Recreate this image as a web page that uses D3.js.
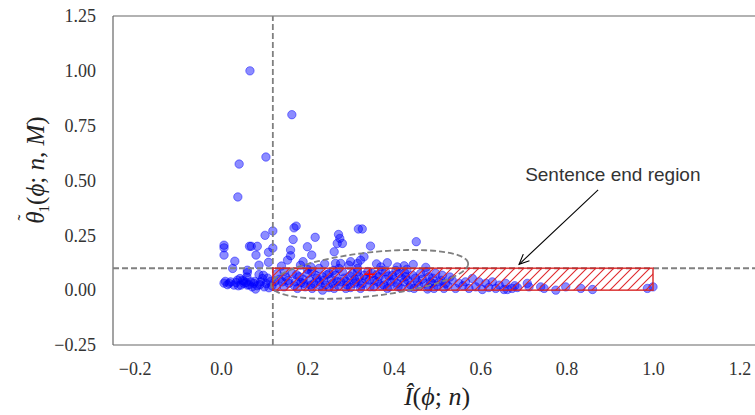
<!DOCTYPE html>
<html><head><meta charset="utf-8">
<script src="https://cdn.jsdelivr.net/npm/d3@7"></script>
<style>body{margin:0;background:#fff}svg{display:block}.tk text{font-family:"Liberation Serif","Times New Roman",serif !important;font-size:18px !important}</style>
</head><body><svg id="c" width="755" height="415"></svg>
<script>
// ---- data ----
const xVals = [0.067,0.164,0.042,0.104,0.039,
0.12,0.102,0.007,0.007,0.007,0.066,0.070,0.084,0.120,0.110,0.081,0.032,0.110,0.088,0.027,0.061,0.061,0.088,0.098,0.044,0.038,0.007,0.022,0.030,0.053,0.061,0.076,0.084,0.100,0.111,0.080,0.046,0.019,0.069,0.096,0.092,0.053,
0.169,0.174,0.167,0.218,0.272,0.275,0.281,0.269,0.161,0.161,0.154,0.200,0.210,0.262,0.318,0.184,0.208,0.265,0.277,0.296,
0.146,0.165,0.181,0.200,0.219,0.235,0.250,0.265,0.281,0.304,0.142,0.157,0.173,0.192,0.208,0.227,0.242,0.258,0.277,0.292,0.308,0.146,0.177,0.211,0.235,0.262,0.289,0.227,0.273,0.316,0.125,0.130,0.128,
0.327,0.346,0.452,0.331,0.323,0.316,0.385,0.370,0.408,0.424,0.445,0.474,
0.316,0.331,0.350,0.366,0.381,0.397,0.412,0.428,0.443,0.462,0.481,0.312,0.327,0.343,0.362,0.377,0.393,0.408,0.424,0.439,0.454,0.470,0.485,0.323,0.354,0.385,0.416,0.447,0.478,
0.497,0.512,0.505,0.489,0.520,0.535,0.551,0.566,0.582,0.597,0.613,0.628,0.644,0.659,0.493,0.516,0.543,0.574,0.605,0.636,0.655,
0.663,0.674,0.686,0.709,0.713,0.740,0.748,0.775,0.798,0.833,0.860,0.987,1.000,
0.135,0.150,0.155,0.170,0.175,0.185,0.190,0.195,0.205,0.210,0.215,0.222,0.230,0.238,0.245,0.250,0.255,0.260,0.268,0.272,0.285,0.290,0.298,0.300,0.310,0.320,0.325,0.335,0.340,0.345,0.355,0.360,0.370,0.372,0.380,0.388,0.390,0.400,0.405,0.410,0.418,0.425,0.432,0.436,0.450,0.458,0.466,0.475,0.480,0.490,0.500,0.510,0.525,0.530,0.560,0.590,0.620,0.680,
0.010,0.015,0.035,0.040,0.050,0.058,0.065,0.072,0.078,0.090,0.105,0.115,0.118,0.108,0.060,
0.140,0.190,0.240,0.300,0.360,0.430,0.200];
const yVals = [1.000,0.800,0.575,0.607,0.425,
0.270,0.250,0.205,0.193,0.160,0.200,0.200,0.200,0.192,0.173,0.160,0.132,0.127,0.114,0.099,0.091,0.080,0.071,0.068,0.053,0.046,0.032,0.038,0.023,0.031,0.023,0.031,0.020,0.015,0.011,0.005,0.023,0.031,0.038,0.053,0.038,0.041,
0.284,0.292,0.231,0.241,0.254,0.236,0.213,0.213,0.183,0.157,0.137,0.198,0.160,0.175,0.279,0.114,0.106,0.122,0.122,0.114,
0.084,0.076,0.061,0.076,0.068,0.061,0.076,0.068,0.084,0.076,0.038,0.031,0.038,0.031,0.023,0.038,0.023,0.031,0.038,0.023,0.031,0.015,0.008,0.008,0.000,0.008,0.008,0.099,0.099,0.099,0.040,0.075,0.012,
0.279,0.201,0.221,0.152,0.137,0.122,0.125,0.106,0.106,0.111,0.117,0.104,
0.084,0.068,0.076,0.061,0.084,0.068,0.076,0.061,0.068,0.076,0.061,0.038,0.031,0.046,0.038,0.023,0.038,0.031,0.038,0.023,0.038,0.031,0.038,0.008,0.015,0.008,0.011,0.008,0.005,
0.076,0.068,0.038,0.031,0.031,0.046,0.031,0.038,0.053,0.038,0.031,0.038,0.023,0.031,0.008,0.008,0.008,0.008,0.003,0.008,0.003,
0.003,0.008,0.012,0.031,0.015,0.015,0.008,0.000,0.015,0.008,0.003,0.008,0.015,
0.050,0.060,0.045,0.020,0.070,0.035,0.050,0.015,0.045,0.085,0.030,0.055,0.020,0.045,0.070,0.012,0.050,0.090,0.040,0.020,0.055,0.040,0.065,0.012,0.050,0.060,0.020,0.050,0.085,0.015,0.045,0.070,0.020,0.090,0.050,0.065,0.015,0.050,0.090,0.015,0.055,0.080,0.045,0.012,0.055,0.020,0.050,0.085,0.015,0.055,0.020,0.045,0.020,0.060,0.020,0.015,0.012,0.020,
0.040,0.025,0.035,0.020,0.045,0.035,0.025,0.015,0.040,0.025,0.030,0.040,0.020,0.055,0.060,
0.110,0.130,0.120,0.130,0.120,0.095,0.095];
const xTicks = [-0.2,0.0,0.2,0.4,0.6,0.8,1.0,1.2];
const yTicks = [-0.25,0.00,0.25,0.50,0.75,1.00,1.25];
const xThreshold = 0.12, yThreshold = 0.10;
const regionX = [0.12, 1.0], regionY = [0.0, 0.10];
const meanPoint = [0.344, 0.072];
const ellipseMajor = [0.228, 0.051], ellipseMinor = [0.0058, -0.099];
const annText = "Sentence end region";
const annTextPos = [0.907, 0.50];
const annFrom = [0.873, 0.457], annTo = [0.690, 0.118];

// ---- chart ----
const svg = d3.select("#c");
const x = d3.scaleLinear().domain([-0.25,1.25]).range([113,761]);
const y = d3.scaleLinear().domain([-0.25,1.25]).range([345,16]);
const serif = "'Liberation Serif', 'Times New Roman', serif";

const defs = svg.append("defs");
const pat = defs.append("pattern").attr("id","hatch").attr("patternUnits","userSpaceOnUse")
  .attr("width",9).attr("height",9);
pat.append("path").attr("d","M-1,1 L1,-1 M0,9 L9,0 M8,10 L10,8").attr("stroke","#e0282c").attr("stroke-width",1.1);
defs.append("clipPath").attr("id","clip").append("rect").attr("x",113).attr("y",16).attr("width",648).attr("height",329);

// spines
svg.append("line").attr("x1",113).attr("x2",761).attr("y1",16).attr("y2",16).attr("stroke","#666").attr("stroke-width",1.2);
svg.append("line").attr("x1",113).attr("x2",761).attr("y1",345).attr("y2",345).attr("stroke","#666").attr("stroke-width",1.2);
svg.append("line").attr("x1",113).attr("x2",113).attr("y1",16).attr("y2",345).attr("stroke","#666").attr("stroke-width",1.2);

// axes tick labels
const xAxis = d3.axisBottom(x).tickValues(xTicks).tickSize(0).tickPadding(17)
  .tickFormat(d => d3.format(".1f")(d).replace("-", "\u2212"));
const gx = svg.append("g").attr("class","tk").attr("transform","translate(0,345)").call(xAxis)
  .attr("font-family", serif).attr("font-size", 18);
gx.select(".domain").remove();
gx.selectAll("text").attr("font-family",serif).attr("fill","#333");
const yAxis = d3.axisLeft(y).tickValues(yTicks).tickSize(0).tickPadding(17)
  .tickFormat(d => d3.format(".2f")(d).replace("-", "\u2212"));
const gy = svg.append("g").attr("class","tk").attr("transform","translate(113,0)").call(yAxis)
  .attr("font-family", serif).attr("font-size", 18);
gy.select(".domain").remove();
gy.selectAll("text").attr("font-family",serif).attr("fill","#333");

const plot = svg.append("g").attr("clip-path","url(#clip)");

// points
plot.selectAll("circle.pt").data(d3.range(xVals.length)).join("circle").attr("class","pt")
  .attr("cx", i => x(xVals[i])).attr("cy", i => y(yVals[i])).attr("r",4.2)
  .attr("fill","rgba(0,0,255,0.45)").attr("stroke","rgba(0,0,255,0.45)").attr("stroke-width",1);

// threshold lines
plot.append("line").attr("x1",x(-0.25)).attr("x2",x(1.25)).attr("y1",y(yThreshold)).attr("y2",y(yThreshold))
  .attr("stroke","#808080").attr("stroke-width",1.8).attr("stroke-dasharray","6,3");
plot.append("line").attr("x1",x(xThreshold)).attr("x2",x(xThreshold)).attr("y1",y(-0.25)).attr("y2",y(1.25))
  .attr("stroke","#808080").attr("stroke-width",1.8).attr("stroke-dasharray","6,3");

// region
plot.append("rect").attr("x",x(regionX[0])).attr("y",y(regionY[1]))
  .attr("width",x(regionX[1])-x(regionX[0])).attr("height",y(regionY[0])-y(regionY[1]))
  .attr("fill","url(#hatch)").attr("stroke","rgba(215,30,30,0.85)").attr("stroke-width",1.6);

// ellipse
const ell = d3.range(0, 361, 3).map(t => {
  const a = t*Math.PI/180;
  return [x(meanPoint[0] + Math.cos(a)*ellipseMajor[0] + Math.sin(a)*ellipseMinor[0]),
          y(meanPoint[1] + Math.cos(a)*ellipseMajor[1] + Math.sin(a)*ellipseMinor[1])];
});
plot.append("path").attr("d", d3.line()(ell)+"Z").attr("fill","none")
  .attr("stroke","#808080").attr("stroke-width",1.8).attr("stroke-dasharray","6,3");

// mean marker
const mx = x(meanPoint[0]), my = y(meanPoint[1]);
plot.append("path").attr("d",`M${mx-5},${my}H${mx+5}M${mx},${my-5}V${my+5}`).attr("stroke","red").attr("stroke-width",1.5);

// annotation
svg.append("text").attr("x",x(annTextPos[0])).attr("y",y(annTextPos[1])).attr("text-anchor","middle")
  .style("font-family","'Liberation Sans', Arial, sans-serif").style("font-size","19px").attr("fill","#333").text(annText);
const ax0 = x(annFrom[0]), ay0 = y(annFrom[1]), ax1 = x(annTo[0]), ay1 = y(annTo[1]);
svg.append("line").attr("x1",ax0).attr("y1",ay0).attr("x2",ax1).attr("y2",ay1).attr("stroke","#000").attr("stroke-width",1.1);
const ang = Math.atan2(ay1-ay0, ax1-ax0), hl = 11, ha = 0.42;
svg.append("path").attr("d",`M${ax1-hl*Math.cos(ang-ha)},${ay1-hl*Math.sin(ang-ha)}L${ax1},${ay1}L${ax1-hl*Math.cos(ang+ha)},${ay1-hl*Math.sin(ang+ha)}`)
  .attr("fill","none").attr("stroke","#000").attr("stroke-width",1.1);

// axis labels
const xl = svg.append("text").attr("x",x(0.5)).attr("y",405).attr("text-anchor","middle")
  .style("font-family",serif).style("font-size","26px").attr("fill","#222");
xl.append("tspan").attr("font-style","italic").text("I\u0302");
xl.append("tspan").text("(");
xl.append("tspan").attr("font-style","italic").text("\u03D5");
xl.append("tspan").text("; ");
xl.append("tspan").attr("font-style","italic").text("n");
xl.append("tspan").text(")");

const yl = svg.append("text").attr("transform","translate(44,170) rotate(-90)").attr("text-anchor","middle")
  .style("font-family",serif).style("font-size","25px").attr("fill","#222");
yl.append("tspan").attr("font-style","italic").text("\u03B8");
yl.append("tspan").attr("dx",-9).attr("dy",-13).style("font-size","18px").text("\u02DC");
yl.append("tspan").attr("dx",2).attr("dy",18).style("font-size","15px").text("1");
yl.append("tspan").attr("dy",-5).text("(");
yl.append("tspan").attr("font-style","italic").text("\u03D5");
yl.append("tspan").text("; ");
yl.append("tspan").attr("font-style","italic").text("n");
yl.append("tspan").text(", ");
yl.append("tspan").attr("font-style","italic").text("M");
yl.append("tspan").text(")");
</script></body></html>
